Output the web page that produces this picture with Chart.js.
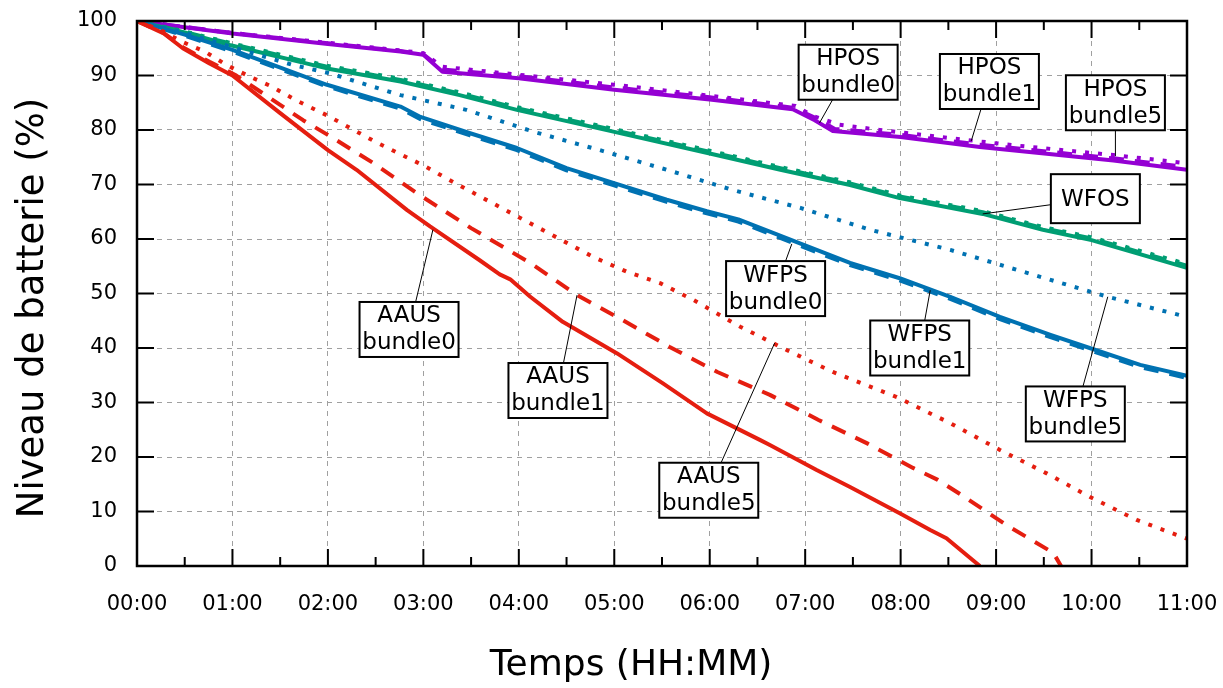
<!DOCTYPE html>
<html>
<head>
<meta charset="utf-8">
<script src="https://cdn.jsdelivr.net/npm/chart.js@4.4.0/dist/chart.umd.min.js"></script>
<style>
  html, body { margin: 0; padding: 0; background: #ffffff; }
  #wrap { width: 1223px; height: 688px; }
</style>
</head>
<body>
<div id="wrap"><canvas id="battery" width="1223" height="688"></canvas></div>
<script>
// Battery drain, hours since start vs battery level (%)

// HPOS (violet)
const hposT0 = [0, 1, 2, 2.76, 3.0, 3.2, 4.0, 5.0, 6.0, 6.87, 7.1, 7.29, 8.0, 8.83, 10.23, 11];
const hposB0 = [100, 97.7, 95.8, 94.4, 93.8, 90.7, 89.5, 87.4, 85.6, 83.8, 81.8, 79.8, 78.7, 76.9, 74.4, 72.7];
const hposT1 = [0, 1, 2, 2.76, 3.0, 3.2, 4.0, 5.0, 6.0, 6.87, 7.1, 7.31, 8.0, 8.83, 10.23, 11];
const hposB1 = [100, 97.8, 95.9, 94.5, 93.9, 91.1, 89.9, 87.8, 86.0, 84.1, 82.3, 80.2, 79.1, 77.3, 74.8, 73.2];
const hposT5 = [0, 1, 2, 2.76, 3.0, 3.2, 5.0, 6.0, 6.9, 7.08, 7.35, 7.78, 9.18, 10.23, 11];
const hposB5 = [100, 97.8, 96.0, 94.6, 94.1, 91.6, 88.3, 86.3, 84.4, 82.6, 81.0, 80.0, 77.2, 75.4, 73.9];

// WFOS (green)
const wfosT = [0, 0.5, 0.97, 1.99, 2.76, 3.38, 3.98, 4.99, 6.0, 6.74, 7.47, 7.99, 8.86, 9.49, 10.0, 11];
const wfosB0 = [100, 97.9, 95.6, 91.3, 88.9, 86.4, 83.7, 79.7, 75.7, 72.7, 69.9, 67.5, 64.6, 61.7, 59.8, 54.7];
const wfosB1 = [100, 98.0, 95.9, 91.6, 89.2, 86.7, 84.0, 80.0, 76.0, 73.0, 70.2, 67.8, 64.9, 62.0, 60.1, 55.1];
const wfosB5 = [100, 98.1, 96.0, 91.8, 89.4, 86.9, 84.2, 80.2, 76.2, 73.2, 70.4, 68.0, 65.1, 62.2, 60.3, 55.4];

// WFPS (blue)
const wfpsT = [0, 0.5, 1.0, 1.99, 2.76, 2.97, 3.49, 3.98, 4.5, 4.99, 5.55, 5.97, 6.3, 7.12, 7.47, 7.99, 8.52, 9.04, 9.57, 9.98, 10.51, 11];
const wfpsB0 = [100, 97.5, 94.7, 88.3, 84.3, 82.4, 79.4, 76.7, 73.0, 70.3, 67.2, 65.1, 63.6, 58.0, 55.6, 52.8, 49.4, 45.7, 42.4, 40.0, 36.9, 34.9];
const wfpsB1 = [100, 97.3, 94.4, 88.0, 83.9, 82.0, 79.0, 76.3, 72.6, 69.9, 66.8, 64.7, 63.2, 57.6, 55.2, 52.4, 49.0, 45.3, 42.0, 39.6, 36.5, 34.5];
const wfpsT5 = [0, 0.5, 1.15, 1.64, 2.02, 2.76, 3.45, 4.15, 4.85, 5.55, 6.24, 6.95, 7.68, 8.52, 9.57, 10.17, 11];
const wfpsB5 = [100, 97.8, 94.4, 91.9, 90.4, 86.4, 83.7, 79.7, 76.3, 72.7, 69.0, 65.7, 61.7, 58.0, 52.5, 49.4, 45.7];

// AAUS (red)
const aausT0 = [0, 0.28, 0.48, 0.76, 1.0, 1.5, 2.0, 2.3, 2.83, 3.07, 3.59, 3.8, 3.91, 4.12, 4.46, 5.03, 5.51, 5.97, 6.53, 6.63, 7.12, 7.47, 8.0, 8.31, 8.48, 8.83];
const aausB0 = [100, 97.7, 95.0, 92.2, 90.0, 83.1, 76.3, 72.7, 65.3, 62.3, 56.1, 53.5, 52.6, 49.4, 44.8, 39.0, 33.5, 28.0, 23.1, 22.2, 17.6, 14.5, 9.6, 6.6, 5.1, 0];
const aausT1 = [0, 0.28, 0.48, 0.76, 1.03, 1.27, 1.5, 1.74, 1.99, 2.47, 2.94, 3.5, 4.12, 4.61, 5.09, 5.58, 6.08, 6.63, 7.14, 7.65, 8.13, 8.39, 8.64, 9.11, 9.6, 9.68];
const aausB1 = [100, 97.8, 95.2, 92.5, 90.1, 87.3, 84.6, 81.8, 79.2, 74.0, 68.3, 62.0, 55.6, 49.7, 45.1, 40.2, 35.6, 31.4, 26.8, 22.5, 18.0, 15.8, 13.0, 7.5, 2.4, 0];
const aausT5 = [0, 0.25, 0.47, 0.71, 0.94, 1.18, 1.41, 1.66, 1.99, 2.5, 3.0, 3.37, 4.0, 4.78, 5.13, 5.48, 5.83, 6.32, 6.81, 7.29, 7.96, 8.52, 9.04, 9.53, 9.98, 10.48, 11];
const aausB5 = [100, 98.3, 96.2, 94.4, 91.9, 89.8, 88.0, 85.5, 82.7, 77.8, 73.5, 69.9, 64.0, 56.7, 54.0, 51.9, 48.8, 43.9, 39.6, 35.6, 31.0, 26.2, 21.3, 17.0, 12.7, 8.4, 5.0];

// axis ticks
const hourTicks = [0, 1, 2, 3, 4, 5, 6, 7, 8, 9, 10, 11];
const levelTicks = [0, 10, 20, 30, 40, 50, 60, 70, 80, 90, 100];
const xTitle = 'Temps (HH:MM)';
const yTitle = 'Niveau de batterie (%)';

// annotation labels: box centre and pointer target, in data units
const labelTexts = [['HPOS', 'bundle0'], ['HPOS', 'bundle1'], ['HPOS', 'bundle5'], ['WFOS'],
  ['WFPS', 'bundle0'], ['WFPS', 'bundle1'], ['WFPS', 'bundle5'],
  ['AAUS', 'bundle0'], ['AAUS', 'bundle1'], ['AAUS', 'bundle5']];
const labelBoxX = [7.45, 8.93, 10.25, 10.04, 6.69, 8.2, 9.83, 2.85, 4.41, 5.99];
const labelBoxY = [90.6, 88.9, 85.0, 67.4, 50.9, 40.0, 27.9, 43.4, 32.2, 13.9];
const labelPtX = [7.15, 8.74, 10.25, 8.86, 6.86, 8.31, 10.17, 3.1, 4.61, 6.68];
const labelPtY = [81.3, 78.0, 75.2, 64.6, 59.1, 50.6, 49.4, 61.7, 49.7, 40.9];

const COLORS = {
  violet: '#9400d3',
  green: '#009e73',
  blue: '#0072b2',
  red: '#e51e10'
};
const DOTTED = [4, 9];
const DASHED = [15, 11];
const FONT = '"DejaVu Sans", sans-serif';

function pts(t, v) {
  return t.map((x, i) => ({ x: x, y: v[i] }));
}

function series(t, v, color, dash) {
  return {
    data: pts(t, v),
    borderColor: color,
    backgroundColor: color,
    borderWidth: 4,
    borderDash: dash || [],
    borderCapStyle: 'butt',
    borderJoinStyle: 'round',
    pointRadius: 0,
    tension: 0,
    fill: false
  };
}

const datasets = [
  series(aausT5, aausB5, COLORS.red, DOTTED),
  series(aausT1, aausB1, COLORS.red, DASHED),
  series(aausT0, aausB0, COLORS.red),
  series(wfpsT5, wfpsB5, COLORS.blue, DOTTED),
  series(wfpsT, wfpsB1, COLORS.blue, DASHED),
  series(wfpsT, wfpsB0, COLORS.blue),
  series(wfosT, wfosB5, COLORS.green, DOTTED),
  series(wfosT, wfosB1, COLORS.green, DASHED),
  series(wfosT, wfosB0, COLORS.green),
  series(hposT5, hposB5, COLORS.violet, DOTTED),
  series(hposT1, hposB1, COLORS.violet, DASHED),
  series(hposT0, hposB0, COLORS.violet)
];

// frame with inward ticks on all four sides (gnuplot look) + axis titles
const framePlugin = {
  id: 'frame',
  afterDatasetsDraw(chart) {
    const { ctx, chartArea: a, scales } = chart;
    const sx = scales.x, sy = scales.y;
    ctx.save();
    ctx.strokeStyle = '#000';
    ctx.lineWidth = 2;
    ctx.beginPath();
    hourTicks.forEach(h => {
      const px = sx.getPixelForValue(h);
      ctx.moveTo(px, a.bottom); ctx.lineTo(px, a.bottom - 17);
      ctx.moveTo(px, a.top); ctx.lineTo(px, a.top + 17);
      if (h < 11) {
        const pm = sx.getPixelForValue(h + 0.5);
        ctx.moveTo(pm, a.bottom); ctx.lineTo(pm, a.bottom - 9);
        ctx.moveTo(pm, a.top); ctx.lineTo(pm, a.top + 9);
      }
    });
    levelTicks.forEach(v => {
      const py = sy.getPixelForValue(v);
      ctx.moveTo(a.left, py); ctx.lineTo(a.left + 17, py);
      ctx.moveTo(a.right, py); ctx.lineTo(a.right - 17, py);
    });
    ctx.stroke();
    ctx.lineWidth = 2.5;
    ctx.strokeRect(a.left, a.top, a.right - a.left, a.bottom - a.top);

    ctx.fillStyle = '#000';
    ctx.textAlign = 'center';
    ctx.textBaseline = 'middle';
    ctx.font = '36px ' + FONT;
    ctx.fillText(xTitle, 631, 666);
    ctx.translate(33, 308);
    ctx.rotate(-Math.PI / 2);
    ctx.font = '37px ' + FONT;
    ctx.fillText(yTitle, 0, 0);
    ctx.restore();
  }
};

// boxed labels with pointer lines
const labelPlugin = {
  id: 'boxLabels',
  afterDraw(chart) {
    const { ctx, scales } = chart;
    const sx = scales.x, sy = scales.y;
    ctx.save();
    ctx.font = '23px ' + FONT;
    ctx.textAlign = 'center';
    ctx.textBaseline = 'middle';
    labelTexts.forEach((lines, i) => {
      const cx = sx.getPixelForValue(labelBoxX[i]);
      const cy = sy.getPixelForValue(labelBoxY[i]);
      const tx = sx.getPixelForValue(labelPtX[i]);
      const ty = sy.getPixelForValue(labelPtY[i]);
      const w = lines.length > 1 ? 99 : 89;
      const h = lines.length > 1 ? 55 : 49;
      ctx.strokeStyle = '#000';
      ctx.lineWidth = 1;
      ctx.beginPath();
      ctx.moveTo(cx, cy);
      ctx.lineTo(tx, ty);
      ctx.stroke();
      ctx.fillStyle = '#fff';
      ctx.fillRect(cx - w / 2, cy - h / 2, w, h);
      ctx.lineWidth = 2;
      ctx.strokeRect(cx - w / 2, cy - h / 2, w, h);
      ctx.fillStyle = '#000';
      if (lines.length > 1) {
        ctx.fillText(lines[0], cx, cy - 13);
        ctx.fillText(lines[1], cx, cy + 14);
      } else {
        ctx.fillText(lines[0], cx, cy + 1);
      }
    });
    ctx.restore();
  }
};

new Chart(document.getElementById('battery'), {
  type: 'line',
  data: { datasets: datasets },
  options: {
    responsive: false,
    animation: false,
    layout: { padding: { left: 0, right: 36, top: 21, bottom: 0 } },
    plugins: {
      legend: { display: false },
      tooltip: { enabled: false }
    },
    scales: {
      x: {
        type: 'linear',
        min: 0,
        max: 11,
        afterFit(scale) {
          scale.height = 122;
          scale.paddingLeft = 0;
          scale.paddingRight = 0;
        },
        afterBuildTicks(scale) { scale.ticks = hourTicks.map(v => ({ value: v })); },
        grid: {
          color: '#a0a0a0',
          lineWidth: 1,
          drawTicks: false
        },
        border: { display: false, dash: [5, 5] },
        ticks: {
          padding: 26,
          color: '#000',
          font: { family: FONT, size: 21 },
          maxRotation: 0,
          callback: v => String(v).padStart(2, '0') + ':00'
        }
      },
      y: {
        min: 0,
        max: 100,
        afterFit(scale) {
          scale.width = 137;
          scale.paddingTop = 0;
          scale.paddingBottom = 0;
        },
        afterBuildTicks(scale) { scale.ticks = levelTicks.map(v => ({ value: v })); },
        grid: {
          color: '#a0a0a0',
          lineWidth: 1,
          drawTicks: false
        },
        border: { display: false, dash: [5, 5] },
        ticks: {
          padding: 20,
          color: '#000',
          font: { family: FONT, size: 21 }
        }
      }
    }
  },
  plugins: [framePlugin, labelPlugin]
});
</script>
</body>
</html>
